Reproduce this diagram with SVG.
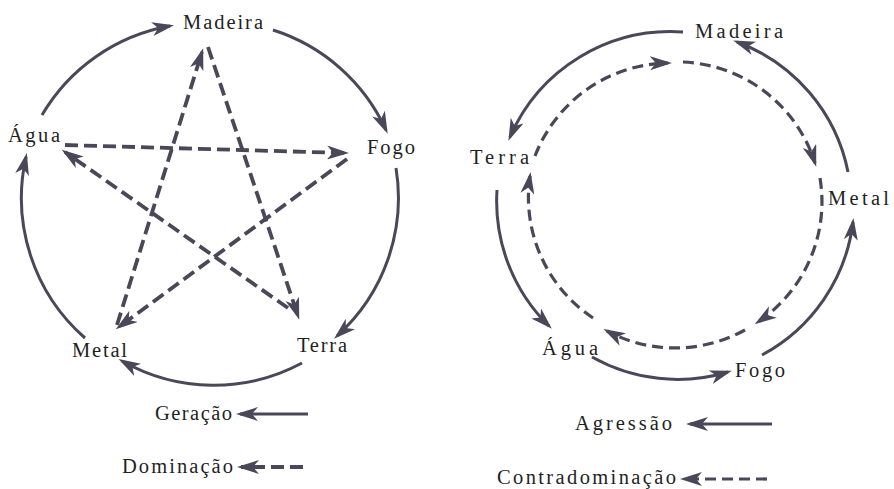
<svg xmlns="http://www.w3.org/2000/svg" width="894" height="489" viewBox="0 0 894 489">
<defs>
<style>
.lbl{font-family:"Liberation Serif","Times New Roman",serif;font-size:20.5px;fill:#1f1f1f;}
.s{fill:none;stroke:#4a4858;stroke-width:3;marker-end:url(#ah);}
.d{fill:none;stroke:#4a4858;stroke-width:3.8;stroke-dasharray:13 6;marker-end:url(#ah);}
.d2{fill:none;stroke:#4a4858;stroke-width:3.2;stroke-dasharray:11 6;marker-end:url(#ah);}
</style>
<marker id="ah" markerUnits="userSpaceOnUse" markerWidth="22" markerHeight="14" refX="18" refY="7" orient="auto">
<path d="M0,0 L22,7 L0,14 L6,7 Z" fill="#4a4858"/>
</marker>
</defs>
<rect width="894" height="489" fill="#ffffff"/>

<g id="connectors">
<!-- left: Geração (solid) -->
<path class="s" d="M42,115 A186,186 0 0 1 170,26"/>
<path class="s" d="M273,30 A186,186 0 0 1 386,130"/>
<path class="s" d="M396,168 A186,186 0 0 1 337,336"/>
<path class="s" d="M302,363 A186,186 0 0 1 122,361"/>
<path class="s" d="M85,338 A186,186 0 0 1 26,157"/>
<!-- left: Dominação (dashed) -->
<path class="d" d="M65,145 L345,153"/>
<path class="d" d="M347,159 L119,327"/>
<path class="d" d="M117,325 L202,52"/>
<path class="d" d="M208,47 L298,316"/>
<path class="d" d="M288,308 L65,152"/>
<!-- right: Agressão (solid) -->
<path class="s" d="M683,32 A175,175 0 0 0 510,137"/>
<path class="s" d="M848,172 A175,175 0 0 0 737,42"/>
<path class="s" d="M497,190 A175,175 0 0 0 549,326"/>
<path class="s" d="M592,357 A175,175 0 0 0 728,372"/>
<path class="s" d="M762,355 A175,175 0 0 0 853,222"/>
<!-- right: Contradominação (dashed) -->
<path class="d2" d="M593,318 A145,145 0 0 1 530,176"/>
<path class="d2" d="M535,156 A145,145 0 0 1 668,63"/>
<path class="d2" d="M683,62 A145,145 0 0 1 815,163"/>
<path class="d2" d="M820,178 A145,145 0 0 1 758,322"/>
<path class="d2" d="M745,330 A145,145 0 0 1 607,331"/>
</g>

<g id="left-madeira"><text class="lbl" x="183" y="29" textLength="80" lengthAdjust="spacing">Madeira</text></g>
<g id="left-fogo"><text class="lbl" x="367" y="154" textLength="48" lengthAdjust="spacing">Fogo</text></g>
<g id="left-terra"><text class="lbl" x="297" y="352" textLength="50" lengthAdjust="spacing">Terra</text></g>
<g id="left-metal"><text class="lbl" x="72" y="357" textLength="55" lengthAdjust="spacing">Metal</text></g>
<g id="left-agua"><text class="lbl" x="8" y="142" textLength="52" lengthAdjust="spacing">Água</text></g>

<g id="right-madeira"><text class="lbl" x="695" y="38" textLength="88" lengthAdjust="spacing">Madeira</text></g>
<g id="right-terra"><text class="lbl" x="470" y="164" textLength="59" lengthAdjust="spacing">Terra</text></g>
<g id="right-metal"><text class="lbl" x="828" y="205" textLength="61" lengthAdjust="spacing">Metal</text></g>
<g id="right-agua"><text class="lbl" x="542" y="355" textLength="56" lengthAdjust="spacing">Água</text></g>
<g id="right-fogo"><text class="lbl" x="735" y="377" textLength="50" lengthAdjust="spacing">Fogo</text></g>

<g id="legend-left">
<text class="lbl" x="155" y="420" textLength="77" lengthAdjust="spacing">Geração</text>
<path class="s" d="M308,414 L240,414"/>
<text class="lbl" x="122" y="473" textLength="111" lengthAdjust="spacing">Dominação</text>
<path class="d" d="M303,467 L241,467"/>
</g>
<g id="legend-right">
<text class="lbl" x="575" y="430" textLength="97" lengthAdjust="spacing">Agressão</text>
<path class="s" d="M772,424 L690,424"/>
<text class="lbl" x="497" y="484" textLength="179" lengthAdjust="spacing">Contradominação</text>
<path class="d2" d="M767,479 L684,479"/>
</g>
</svg>
